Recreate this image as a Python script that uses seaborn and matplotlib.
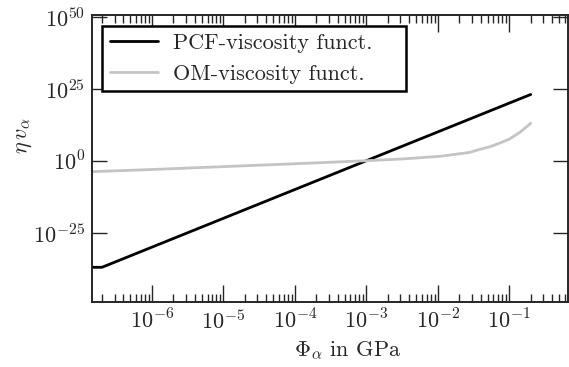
import numpy as np
import pandas as pd
import matplotlib
matplotlib.use("Agg")
import matplotlib.pyplot as plt
import matplotlib.ticker as mticker
import seaborn as sns

# Pressure values (GPa) and log10 of the viscosity functions
phi_pcf = [1.45e-7, 2.0e-7, 1e-6, 1e-5, 1e-4, 1e-3, 1e-2, 1e-1, 2e-1]
log_pcf = [-37.0, -37.0, -30.0, -20.0, -10.0, 0.0, 10.0, 20.0, 23.0]

phi_om = [1.45e-7, 1e-6, 1e-5, 1e-4, 1e-3, 3.16e-3, 5.6e-3, 1.07e-2, 2.04e-2,
          2.8e-2, 3.9e-2, 5.4e-2, 7.4e-2, 1e-1, 1.41e-1, 2e-1]
log_om = [-3.8, -3.05, -2.05, -1.05, 0.0, 0.6, 1.04, 1.52, 2.43,
          2.9, 3.95, 4.86, 6.14, 7.5, 9.85, 13.0]

labels = ["PCF-viscosity funct.", "OM-viscosity funct."]
colors = ["#000000", "#c4c4c4"]

x_ticks = [1e-6, 1e-5, 1e-4, 1e-3, 1e-2, 1e-1]
y_ticks = [1e-25, 1e0, 1e25, 1e50]

df = pd.concat([
    pd.DataFrame({"phi": phi_pcf, "eta": np.power(10.0, log_pcf), "model": labels[0]}),
    pd.DataFrame({"phi": phi_om, "eta": np.power(10.0, log_om), "model": labels[1]}),
])

sns.set_style("ticks")
plt.rcParams.update({
    "font.family": ["cmr10", "DejaVu Serif"],
    "mathtext.fontset": "cm",
    "axes.formatter.use_mathtext": True,
    "font.size": 16,
    "axes.linewidth": 1.4,
    "xtick.direction": "in",
    "ytick.direction": "in",
    "xtick.top": True,
    "ytick.right": True,
})

fig = plt.figure(figsize=(5.69, 3.67), dpi=100)
ax = fig.add_axes([0.1617, 0.177, 0.837, 0.783])

sns.lineplot(data=df, x="phi", y="eta", hue="model", palette=colors,
             linewidth=2, ax=ax, legend=True)

ax.set_xscale("log")
ax.set_yscale("log")
ax.set_xlim(1.45e-7, 0.67)
ax.set_ylim(10 ** -49.06, 10 ** 50.7)


def pow10_label(v, pos):
    return r"$10^{%d}$" % round(np.log10(v))


ax.yaxis.set_major_locator(mticker.FixedLocator(y_ticks))
ax.yaxis.set_minor_locator(mticker.NullLocator())
ax.yaxis.set_major_formatter(mticker.FuncFormatter(pow10_label))
ax.xaxis.set_major_locator(mticker.FixedLocator(x_ticks))
ax.xaxis.set_major_formatter(mticker.FuncFormatter(pow10_label))
ax.xaxis.set_minor_locator(mticker.LogLocator(base=10, subs=np.arange(2, 10), numticks=20))
ax.xaxis.set_minor_formatter(mticker.NullFormatter())

ax.tick_params(which="major", length=12, width=1.0, labelsize=16, pad=5)
ax.tick_params(which="minor", length=6, width=1.0)
ax.tick_params(axis="y", which="major", length=11)

ax.set_xlabel(r"$\Phi_\alpha$ in GPa", fontsize=16)
ax.set_ylabel(r"$\eta\, v_\alpha$", fontsize=16)
ax.xaxis.set_label_coords(0.537, -0.13)
ax.yaxis.set_label_coords(-0.122, 0.578)

leg = ax.legend(loc="upper left", frameon=True, fancybox=False,
                fontsize=16, handlelength=2.15, borderpad=0.35,
                borderaxespad=0, labelspacing=0.5, handletextpad=0.7,
                mode="expand",
                bbox_to_anchor=(0.0216, 0.0, 0.6386, 0.962))
leg.get_frame().set_edgecolor("black")
leg.get_frame().set_linewidth(1.8)
leg.get_frame().set_alpha(1)

fig.savefig("out.png", dpi=100)
